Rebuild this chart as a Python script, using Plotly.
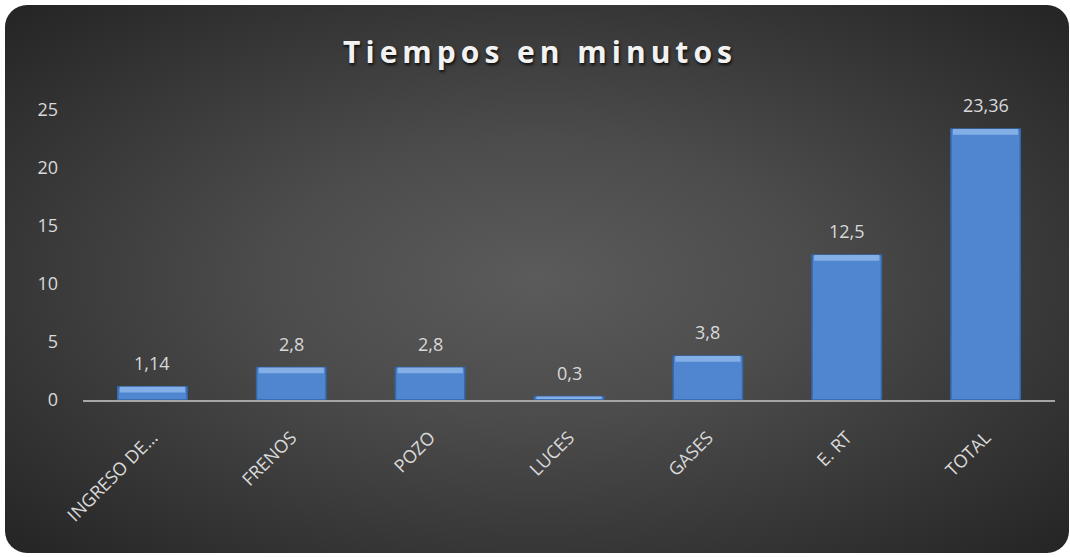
import plotly.graph_objects as go
import urllib.parse

categories = ["INGRESO DE…", "FRENOS", "POZO", "LUCES", "GASES", "E. RT", "TOTAL"]
values = [1.14, 2.8, 2.8, 0.3, 3.8, 12.5, 23.36]
y_ticks = [0, 5, 10, 15, 20, 25]
title_text = "Tiempos en minutos"

W, H = 1070, 557
ML, MR, MT, MB = 83, 15, 110, 157
PW, PH = W - ML - MR, H - MT - MB

TXT = "#d9d9d9"
FONT = "Open Sans"

fig = go.Figure()

# main bars
fig.add_trace(go.Bar(
    x=categories, y=values, width=0.5,
    marker=dict(color="#4f86cf", line=dict(color="#3566a8", width=1.5)),
    hoverinfo="skip", showlegend=False,
))
# top bevel highlight
strip = [min(0.5, v * 0.5) for v in values]
fig.add_trace(go.Bar(
    x=categories, y=strip, base=[v - s for v, s in zip(values, strip)], width=0.47,
    marker=dict(color="#84aee6", line=dict(width=0)),
    hoverinfo="skip", showlegend=False,
))

annotations = []
for c, v in zip(categories, values):
    annotations.append(dict(
        x=c, y=v, xref="x", yref="y", text=("%g" % v).replace(".", ","),
        showarrow=False, yanchor="bottom", yshift=10,
        font=dict(family=FONT, size=18, color=TXT),
    ))

svg = (
    '<svg xmlns="http://www.w3.org/2000/svg" width="%d" height="%d" viewBox="0 0 %d %d">'
    '<defs><radialGradient id="g" cx="0.5" cy="0.5" r="0.72">'
    '<stop offset="0" stop-color="#5b5b5b"/><stop offset="0.35" stop-color="#4c4c4c"/>'
    '<stop offset="1" stop-color="#232323"/></radialGradient></defs>'
    '<rect x="5" y="5" width="1064" height="548" rx="22" ry="22" fill="url(#g)"/></svg>'
) % (W, H, W, H)
src = "data:image/svg+xml;charset=utf-8," + urllib.parse.quote(svg)

fig.update_layout(
    width=W, height=H,
    margin=dict(l=ML, r=MR, t=MT, b=MB),
    paper_bgcolor="white", plot_bgcolor="rgba(0,0,0,0)",
    barmode="overlay", bargap=0.5,
    separators=",.",
    images=[dict(
        source=src, xref="paper", yref="paper",
        x=-ML / PW, y=1 + MT / PH, sizex=W / PW, sizey=H / PH,
        xanchor="left", yanchor="top", sizing="stretch", layer="below",
    )],
    title=dict(
        text="<b>" + title_text + "</b>", x=(5 + 1069) / 2 / W + 3 / W, xanchor="center",
        y=1 - 52 / H, yanchor="middle", yref="container",
        font=dict(family=FONT, size=30, color="#f2f2f2",
                  shadow="1px 2px 3px rgba(0,0,0,0.8)"),
    ),
    xaxis=dict(
        type="category", tickangle=-45, showgrid=False, zeroline=False,
        showline=True, linecolor="#a6a6a6", linewidth=2, ticks="",
        ticklabelstandoff=18,
        tickfont=dict(family=FONT, size=18, color=TXT),
    ),
    yaxis=dict(
        range=[0, 25], tickvals=y_ticks, showgrid=False, zeroline=False,
        showline=False, ticks="", ticklabelstandoff=24,
        tickfont=dict(family=FONT, size=18, color=TXT),
    ),
    annotations=annotations,
)

post = "var t=document.querySelector('.gtitle'); if(t){t.style.letterSpacing='5px';}"
fig.write_html("out.html", post_script=post)
